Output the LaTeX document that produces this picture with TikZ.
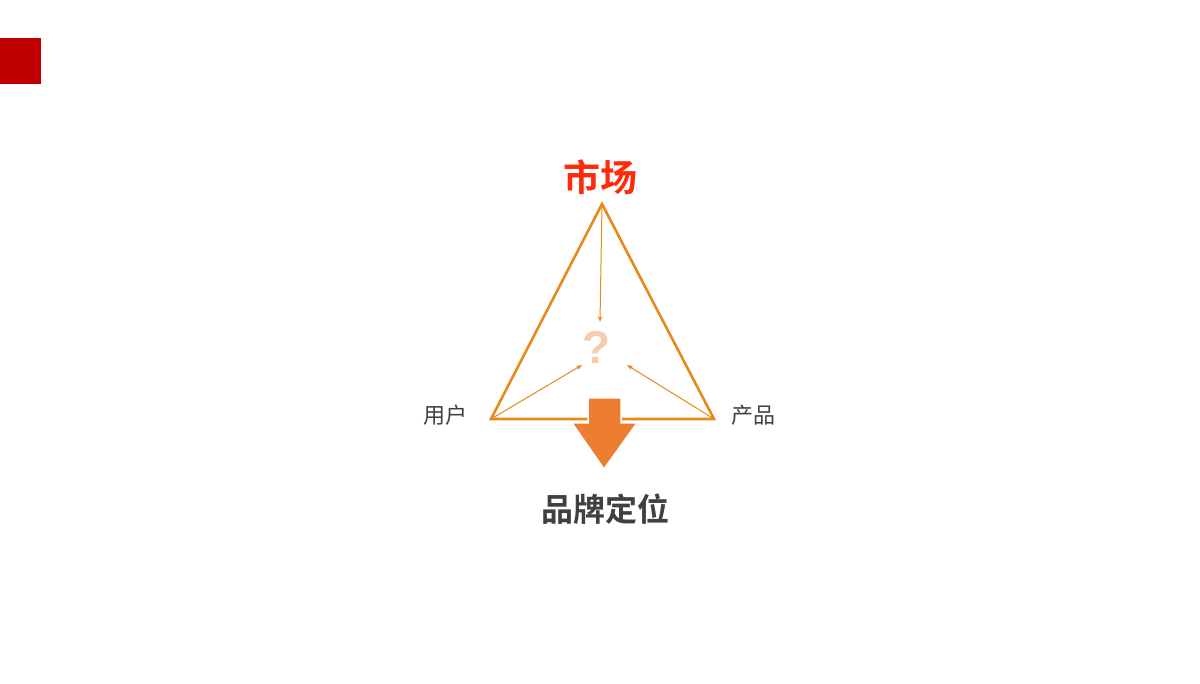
\documentclass[tikz,border=0pt]{standalone}
\usepackage{fontspec}
\newfontfamily\cjk{Noto Sans CJK SC}
\newfontfamily\cjkb{Noto Sans CJK SC Bold}
\newfontfamily\qfont{Liberation Sans}
\usetikzlibrary{arrows.meta}
\definecolor{darkred}{HTML}{C00000}
\definecolor{tri}{HTML}{E8891B}
\definecolor{arr}{HTML}{ED7D31}
\definecolor{qm}{HTML}{F8CBAD}
\definecolor{mkt}{HTML}{FF2A0A}
\definecolor{txt}{HTML}{404040}
\begin{document}
\begin{tikzpicture}[x=1pt,y=-1pt,
  thin arrow/.style={draw=tri,line width=1pt,-{Stealth[length=6pt,width=4.5pt]}},
  label/.style={inner sep=0pt,text=txt}]
\useasboundingbox (0,0) rectangle (1200,684);
\fill[white] (0,0) rectangle (1200,684);
\fill[darkred] (0,38) rectangle (41,84);
% triangle
\coordinate (A) at (602,204);
\coordinate (L) at (491,419);
\coordinate (R) at (714,419);
\draw[tri,line width=2.6pt,line join=miter] (A) -- (L) -- (R) -- cycle;
% inner arrows
\node[inner sep=0pt,text=qm,font=\qfont\bfseries\fontsize{46}{46}\selectfont] (q) at (597,347) {?};
\coordinate (qt) at (600,322);
\coordinate (ql) at (582,365);
\coordinate (qr) at (627,365);
\draw[thin arrow] (A) -- (qt);
\draw[thin arrow] (L) -- (ql);
\draw[thin arrow] (R) -- (qr);
% big down arrow
\filldraw[fill=arr,draw=white,line width=1.5pt]
  (588,398) -- (621,398) -- (621,423) -- (637,423) -- (604,469) -- (572,423) -- (588,423) -- cycle;
% labels
\node[inner sep=0pt,text=mkt,font=\cjkb\fontsize{37}{37}\selectfont] (m) at (600,177) {市场};
\node[label,font=\cjk\fontsize{22}{22}\selectfont] (u) at (445,415) {用户};
\node[label,font=\cjk\fontsize{22}{22}\selectfont] (p) at (753,415) {产品};
\node[label,font=\cjkb\fontsize{32}{32}\selectfont] (b) at (605,509) {品牌定位};
\end{tikzpicture}
\end{document}
